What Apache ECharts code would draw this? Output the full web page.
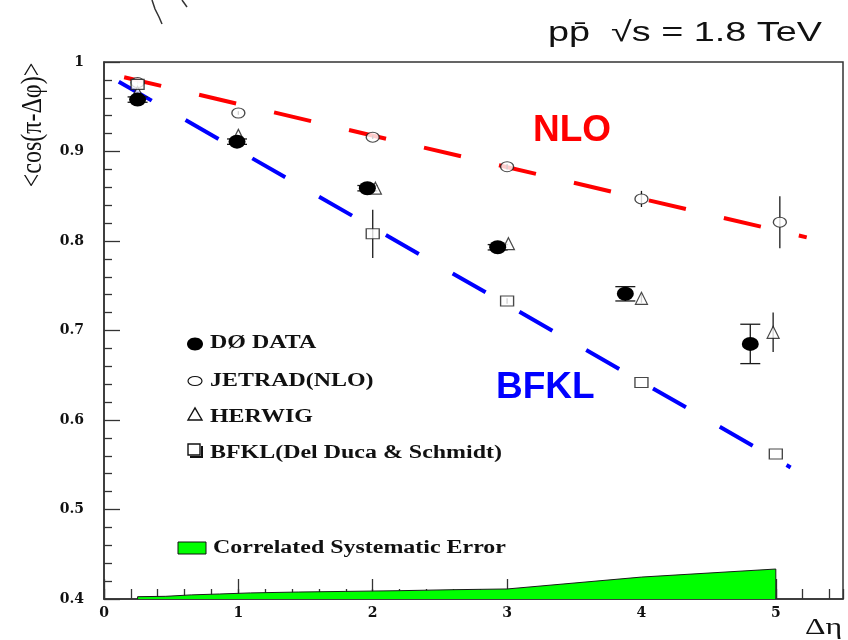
<!DOCTYPE html>
<html>
<head>
<meta charset="utf-8">
<script src="https://cdn.jsdelivr.net/npm/echarts@6/dist/echarts.min.js"></script>
<style>
html,body{margin:0;padding:0;background:#fff;}
#chart{width:848px;height:640px;}
</style>
</head>
<body>
<div id="chart"></div>
<script>
// ---- data ----
const xTickLabels = ['0', '1', '2', '3', '4', '5'];
const yTickLabels = ['0.4', '0.5', '0.6', '0.7', '0.8', '0.9', '1'];

// DØ data (filled circles)
const d0X   = [0.25, 0.99, 1.96, 2.93, 3.88, 4.81];
const d0Y   = [0.958, 0.911, 0.859, 0.793, 0.741, 0.685];
const d0Err = [0.003, 0.003, 0.003, 0.003, 0.008, 0.022];

// JETRAD (NLO) (open circles)
const jetX   = [0.25, 1.0, 2.0, 3.0, 4.0, 5.03];
const jetY   = [0.977, 0.943, 0.916, 0.883, 0.847, 0.821];
const jetErr = [0.002, 0.002, 0.002, 0.003, 0.009, 0.029];

// HERWIG (open triangles)
const herX   = [0.25, 1.0, 2.02, 3.01, 4.0, 4.98];
const herY   = [0.966, 0.918, 0.859, 0.797, 0.736, 0.698];
const herErr = [0, 0, 0, 0, 0.005, 0.022];

// BFKL (Del Duca & Schmidt) (open squares)
const bfkX   = [0.25, 2.0, 3.0, 4.0, 5.0];
const bfkY   = [0.975, 0.808, 0.733, 0.642, 0.562];
const bfkErr = [0, 0.027, 0.003, 0, 0];

// dashed curves
const nloX  = [0.15, 5.23];
const nloY  = [0.983, 0.804];
const bfklLineX = [0.11, 5.11];
const bfklLineY = [0.978, 0.547];

// correlated systematic error band (top edge)
const sysX = [0.25, 0.25, 0.46, 0.46, 0.65, 0.65, 0.86, 0.86, 1.09, 1.09, 1.45, 1.45, 1.8, 1.8, 2.2, 2.2, 2.6, 2.6, 3.0, 4.0, 5.0, 5.0];
const sysY = [0.4, 0.4026, 0.4030, 0.4042, 0.4046, 0.4053, 0.4056, 0.4064, 0.4068, 0.4075, 0.4078, 0.4082, 0.4085, 0.4089, 0.4093, 0.4101, 0.4104, 0.4108, 0.4112, 0.4245, 0.4335, 0.4];

const legendNames = ['DØ DATA', 'JETRAD(NLO)', 'HERWIG', 'BFKL(Del Duca & Schmidt)'];
const sysLegendName = 'Correlated Systematic Error';
const titleText = 'pp\u0304  \u221As = 1.8 TeV';
const yTitle = '<cos(\u03c0-\u0394\u03c6)>';
const xTitle = '\u0394\u03b7';

// ---- helpers ----
const zip = (a, b) => a.map((v, i) => [v, b[i]]);
const zip3 = (a, b, c, cap) => a.map((v, i) => [v, b[i], c[i], cap]);

function errBar(params, api) {
  const x = api.value(0), y = api.value(1), e = api.value(2), cap = api.value(3);
  if (!(e > 0)) return null;
  const lo = api.coord([x, y - e]);
  const hi = api.coord([x, y + e]);
  const st = { stroke: '#1a1a1a', lineWidth: 1.3 };
  const children = [{ type: 'line', shape: { x1: lo[0], y1: lo[1], x2: hi[0], y2: hi[1] }, style: st }];
  if (cap > 0) {
    children.push({ type: 'line', shape: { x1: lo[0] - cap / 2, y1: lo[1], x2: lo[0] + cap / 2, y2: lo[1] }, style: st });
    children.push({ type: 'line', shape: { x1: hi[0] - cap / 2, y1: hi[1], x2: hi[0] + cap / 2, y2: hi[1] }, style: st });
  }
  return { type: 'group', children };
}

const serifBold = 'bold 18px "Liberation Serif", "Times New Roman", serif';
function sText(text, x, y, font, opts, fill, align) {
  return Object.assign({
    type: 'text', x: x, y: y, z: 100,
    style: { text: text, x: 0, y: 0, font: font, fill: fill || '#111',
      align: align || 'left', verticalAlign: 'middle', textAlign: align || 'left', textVerticalAlign: 'middle' }
  }, opts || {});
}

const chart = echarts.init(document.getElementById('chart'), null, { renderer: 'canvas' });

const axisLabelStyle = { fontFamily: '"DejaVu Serif", serif', fontWeight: 'bold', fontSize: 14, color: '#111' };

const option = {
  animation: false,
  backgroundColor: '#fff',
  grid: { left: 104, right: 5, top: 62, bottom: 41, show: true, borderColor: '#333', borderWidth: 1.5, backgroundColor: 'transparent' },
  xAxis: [
    {
      type: 'value', min: 0, max: 5.5, interval: 1, position: 'bottom',
      axisLine: { show: true, onZero: false, lineStyle: { color: '#333', width: 1.5 } },
      axisTick: { show: true, inside: true, length: 20, lineStyle: { color: '#333', width: 1.3 } },
      axisLabel: Object.assign({ margin: 7, showMaxLabel: false,
        formatter: v => { const i = Math.round(v); return Math.abs(v - i) < 1e-6 && xTickLabels[i] !== undefined ? xTickLabels[i] : ''; } }, axisLabelStyle),
      splitLine: { show: false }
    },
    {
      type: 'value', min: 0, max: 5.5, interval: 0.2, position: 'bottom', offset: 0,
      axisLine: { show: false },
      axisTick: { show: true, inside: true, length: 10, lineStyle: { color: '#333', width: 1.3 } },
      axisLabel: { show: false },
      splitLine: { show: false }
    }
  ],
  yAxis: {
    type: 'value', min: 0.4, max: 1, interval: 0.1,
    axisLine: { show: true, onZero: false, lineStyle: { color: '#333', width: 1.5 } },
    axisTick: { show: true, inside: true, length: 16, lineStyle: { color: '#333', width: 1.3 } },
    minorTick: { show: true, splitNumber: 5, length: 8, lineStyle: { color: '#333', width: 1.3 } },
    axisLabel: Object.assign({ margin: 20,
      formatter: v => { const i = Math.round((v - 0.4) * 10); return yTickLabels[i] !== undefined ? yTickLabels[i] : ''; } }, axisLabelStyle),
    splitLine: { show: false }
  },
  series: [
    {
      name: sysLegendName, type: 'line', data: zip(sysX, sysY), symbol: 'none', z: 1,
      lineStyle: { color: '#1a1a1a', width: 1 },
      areaStyle: { color: '#00ff00', opacity: 1, origin: 'start' }
    },
    {
      name: 'NLO', type: 'line', data: zip(nloX, nloY), symbol: 'none', z: 3,
      lineStyle: { color: '#ff0000', width: 4, type: [38, 39] }
    },
    {
      name: 'BFKL', type: 'line', data: zip(bfklLineX, bfklLineY), symbol: 'none', z: 3,
      lineStyle: { color: '#0000ff', width: 4, type: [38, 39] }
    },
    { type: 'custom', renderItem: errBar, data: zip3(d0X, d0Y, d0Err, 20), z: 4, encode: { x: 0, y: 1 } },
    { type: 'custom', renderItem: errBar, data: zip3(jetX, jetY, jetErr, 0), z: 4, encode: { x: 0, y: 1 } },
    { type: 'custom', renderItem: errBar, data: zip3(herX, herY, herErr, 0), z: 4, encode: { x: 0, y: 1 } },
    { type: 'custom', renderItem: errBar, data: zip3(bfkX, bfkY, bfkErr, 0), z: 4, encode: { x: 0, y: 1 } },
    {
      name: legendNames[1], type: 'scatter', data: zip(jetX, jetY), symbol: 'circle', symbolSize: [13, 10], z: 5,
      itemStyle: { color: '#fff', borderColor: '#1a1a1a', borderWidth: 1.2 }
    },
    {
      name: legendNames[2], type: 'scatter', data: zip(herX, herY), symbol: 'triangle', symbolSize: [12, 12], z: 5,
      itemStyle: { color: '#fff', borderColor: '#1a1a1a', borderWidth: 1.2 }
    },
    {
      name: legendNames[3], type: 'scatter', data: zip(bfkX, bfkY), symbol: 'rect', symbolSize: [13, 10], z: 5,
      itemStyle: { color: '#fff', borderColor: '#1a1a1a', borderWidth: 1.2 }
    },
    {
      name: legendNames[0], type: 'scatter', data: zip(d0X, d0Y), symbol: 'circle', symbolSize: [17, 14], z: 6,
      itemStyle: { color: '#000', borderColor: '#000', borderWidth: 0, opacity: 1 }
    }
  ],
  graphic: [
    // scribble at top-left
    { type: 'polyline', shape: { points: [[152, 0], [155, 9], [159, 17], [162, 24]] }, style: { stroke: '#333', lineWidth: 1.5, fill: null } },
    { type: 'polyline', shape: { points: [[182, 0], [187, 7]] }, style: { stroke: '#333', lineWidth: 1.5, fill: null } },
    // title
    sText(titleText, 548, 33, '28px "Liberation Sans", Arial, sans-serif', { scaleX: 1.35 }),
    // NLO / BFKL labels
    sText('NLO', 533, 131, 'bold 37px "Liberation Sans", Arial, sans-serif', null, '#ff0000'),
    sText('BFKL', 496, 388, 'bold 37px "Liberation Sans", Arial, sans-serif', null, '#0000ff'),
    // y title (rotated)
    sText(yTitle, 33, 125, '24px "Liberation Serif", "Times New Roman", serif', { rotation: Math.PI / 2, scaleY: 1.25 }, '#111', 'center'),
    // x title
    sText(xTitle, 805, 628, '24px "Liberation Serif", "Times New Roman", serif', { scaleX: 1.33 }),
    // legend markers
    { type: 'ellipse', shape: { cx: 195, cy: 344, rx: 8, ry: 6.5 }, style: { fill: '#000' }, z: 100 },
    { type: 'ellipse', shape: { cx: 195, cy: 381, rx: 7, ry: 4.5 }, style: { fill: '#fff', stroke: '#111', lineWidth: 1.2 }, z: 100 },
    { type: 'polygon', shape: { points: [[188, 420], [202, 420], [195, 408]] }, style: { fill: '#fff', stroke: '#111', lineWidth: 1.4 }, z: 100 },
    { type: 'rect', shape: { x: 188, y: 444, width: 12, height: 11 }, style: { fill: '#fff', stroke: '#111', lineWidth: 1.4 }, z: 100 },
    { type: 'polyline', shape: { points: [[190, 457], [202, 457], [202, 446]] }, style: { stroke: '#111', lineWidth: 2, fill: null }, z: 100 },
    // legend texts
    sText(legendNames[0], 210, 343, serifBold, { scaleX: 1.33 }),
    sText(legendNames[1], 210, 381, serifBold, { scaleX: 1.33 }),
    sText(legendNames[2], 210, 417, serifBold, { scaleX: 1.33 }),
    sText(legendNames[3], 210, 453, serifBold, { scaleX: 1.33 }),
    { type: 'rect', shape: { x: 178, y: 542, width: 28, height: 12 }, style: { fill: '#00ff00', stroke: '#111', lineWidth: 1 }, z: 100 },
    sText(sysLegendName, 213, 548, serifBold, { scaleX: 1.33 })
  ]
};
chart.setOption(option);
</script>
</body>
</html>
